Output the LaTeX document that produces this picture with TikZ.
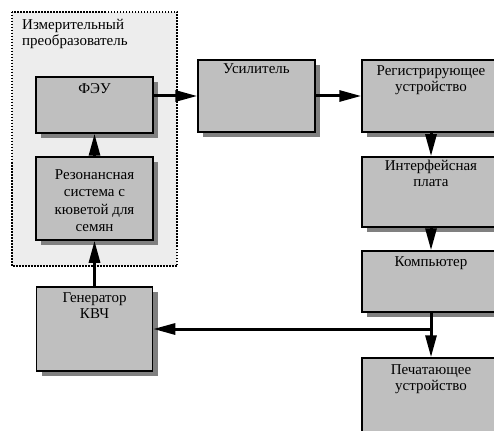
\documentclass[tikz,border=0pt]{standalone}
\usepackage{fontspec}
\setmainfont{Liberation Serif}
\usetikzlibrary{shadows,arrows.meta}
\newcommand{\blocktext}[4][15]{\parbox[t][#3pt][t]{#2pt}{\centering\rule{0pt}{#1pt}#4}}
\begin{document}
\begin{tikzpicture}[x=1pt,y=-1pt,>={Triangle[length=22pt,width=11pt]},
  font=\fontsize{15}{16}\selectfont,
  blk/.style={draw,line width=1.5pt,fill=black!25,inner sep=0pt,
    drop shadow={shadow xshift=5pt,shadow yshift=-5pt,fill=black!50,opacity=1}},
  link/.style={->,line width=3pt}]
\useasboundingbox (0,0) rectangle (494,430);
\clip (0,0) rectangle (494,430);
\draw[fill=black!7,line width=1.5pt,dash pattern=on 1.5pt off 1.5pt] (12,12) rectangle (177,266);
\node at (22,19) [anchor=north west,align=left,inner sep=0pt] (title) {Измерительный\\преобразователь};
\node at (94.5,105) [blk] (feu) {\blocktext[17]{117}{56}{ФЭУ}};
\node at (94.5,198.5) [blk] (rez) {\blocktext[22]{117}{83}{\baselineskip=17.5pt Резонансная\\система с\\кюветой для\\семян}};
\node at (94.5,329) [blk] (gen) {\blocktext{116}{84}{Генератор\\КВЧ}};
\node at (256.5,96) [blk] (usil) {\blocktext[14]{117}{72}{Усилитель}};
\node at (431,96) [blk] (reg) {\blocktext[16]{138}{72}{Регистрирующее\\устройство}};
\node at (431,192) [blk] (intf) {\blocktext[14]{138}{70}{Интерфейсная\\плата}};
\node at (431,281.5) [blk] (comp) {\blocktext[15]{138}{61}{Компьютер}};
\node at (431,399) [blk] (pech) {\blocktext[16]{138}{82}{Печатающее\\устройство}};
\draw[link] (feu.east|-usil.west) -- (usil.west);
\draw[link] (usil.east) -- (reg.west);
\draw[link] (reg.south) -- (intf.north);
\draw[link] (intf.south) -- (comp.north);
\draw[link] (comp.south) -- (pech.north);
\draw[link] (comp.south) |- (gen.east);
\draw[link] (gen.north) -- (rez.south);
\draw[link] (rez.north) -- (feu.south);
\end{tikzpicture}
\end{document}
